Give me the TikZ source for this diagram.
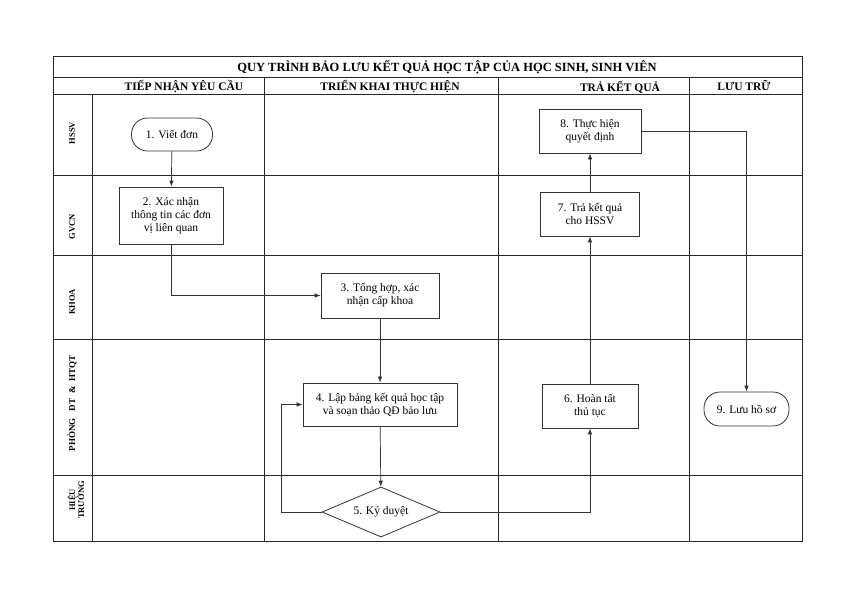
\documentclass[tikz,border=0pt]{standalone}
\usepackage{fontspec}
\setmainfont{Liberation Serif}
\usetikzlibrary{arrows.meta}
\usetikzlibrary{shapes.geometric}

\tikzset{
  lane/.style={line width=0.9pt, black!85},
  flow/.style={line width=0.7pt, black!80, -{Latex[length=6pt,width=4.5pt]}},
  stepbox/.style={draw, line width=0.8pt, black!80, text=black, align=center,
    inner sep=1pt, font=\fontsize{11.5}{13}\selectfont},
  endbox/.style={stepbox, rounded corners=16pt},
  decide/.style={stepbox, diamond, aspect=2.4, inner sep=0pt},
  lanelabel/.style={rotate=90, align=center, font=\bfseries\fontsize{8.5}{9}\selectfont},
  colhead/.style={font=\bfseries\fontsize{11.5}{12}\selectfont}
}

\begin{document}
\begin{tikzpicture}[x=1pt,y=-1pt]
  \useasboundingbox (0,0) rectangle (842,595);

  % khung
  \draw[lane] (53,56) rectangle (802,541);
  \draw[lane] (53,77) -- (802,77);
  \draw[lane] (53,94) -- (802,94);
  \draw[lane] (92,94) -- (92,541);
  \draw[lane] (264,77) -- (264,541);
  \draw[lane] (498,77) -- (498,541);
  \draw[lane] (689,77) -- (689,541);
  \draw[lane] (53,175) -- (802,175);
  \draw[lane] (53,255) -- (802,255);
  \draw[lane] (53,339) -- (802,339);
  \draw[lane] (53,475) -- (802,475);

  \node (title) at (447,67) {\bfseries\fontsize{12.5}{14}\selectfont QUY TRÌNH BẢO LƯU KẾT QUẢ HỌC TẬP CỦA HỌC SINH, SINH VIÊN};
  \node[colhead] (h1) at (184,86.5) {TIẾP NHẬN YÊU CẦU};
  \node[colhead] (h2) at (390,86.5) {TRIỂN KHAI THỰC HIỆN};
  \node[colhead] (h3) at (620,87) {TRẢ KẾT QUẢ};
  \node[colhead] (h4) at (744,85) {LƯU TRỮ};

  \node[lanelabel] (hssv) at (72,133) {HSSV};
  \node[lanelabel] (gvcn) at (72,227) {GVCN};
  \node[lanelabel] (khoa) at (72,302) {KHOA};
  \node[lanelabel, font=\bfseries\fontsize{9}{9}\selectfont] (phong) at (72,403) {PHÒNG\hspace{7pt}ĐT\hspace{5pt}\&\hspace{5pt}HTQT};
  \node[lanelabel] (ht) at (76,500) {HIỆU\\TRƯỞNG};

  \node[endbox, minimum width=81pt, minimum height=33pt] (v1) at (172,134.5) {1. Viết đơn};
  \node[stepbox, minimum width=104pt, minimum height=57pt] (v2) at (171,215.5) {2. Xác nhận\\thông tin các đơn\\vị liên quan};
  \node[stepbox, minimum width=118pt, minimum height=45pt] (v3) at (380,295.5) {3. Tổng hợp, xác\\nhận cấp khoa};
  \node[stepbox, minimum width=154pt, minimum height=43pt] (v4) at (380,404.5) {4. Lập bảng kết quả học tập\\và soạn thảo QĐ bảo lưu};
  \node[decide, minimum width=118pt, minimum height=50pt] (v5) at (381,512) {5. Ký duyệt};
  \node[stepbox, minimum width=96pt, minimum height=44pt] (v6) at (590,406) {6. Hoàn tất\\thủ tục};
  \node[stepbox, minimum width=99pt, minimum height=44pt] (v7) at (590,214) {7. Trả kết quả\\cho HSSV};
  \node[stepbox, minimum width=102pt, minimum height=44pt] (v8) at (590,131) {8. Thực hiện\\quyết định};
  \node[endbox, minimum width=85pt, minimum height=34pt] (v9) at (746.5,409) {9. Lưu hồ sơ};

  \draw[flow] (v1) -- (v2);
  \draw[flow] (v2.south) |- (v3.west);
  \draw[flow] (v3) -- (v4);
  \draw[flow] (v4) -- (v5);
  \draw[flow] (v5.west) -- ++(-40,0) |- (v4.west);
  \draw[flow] (v5.east) -| (v6.south);
  \draw[flow] (v6) -- (v7);
  \draw[flow] (v7) -- (v8);
  \draw[flow] (v8.east) -| (v9.north);
\end{tikzpicture}
\end{document}
